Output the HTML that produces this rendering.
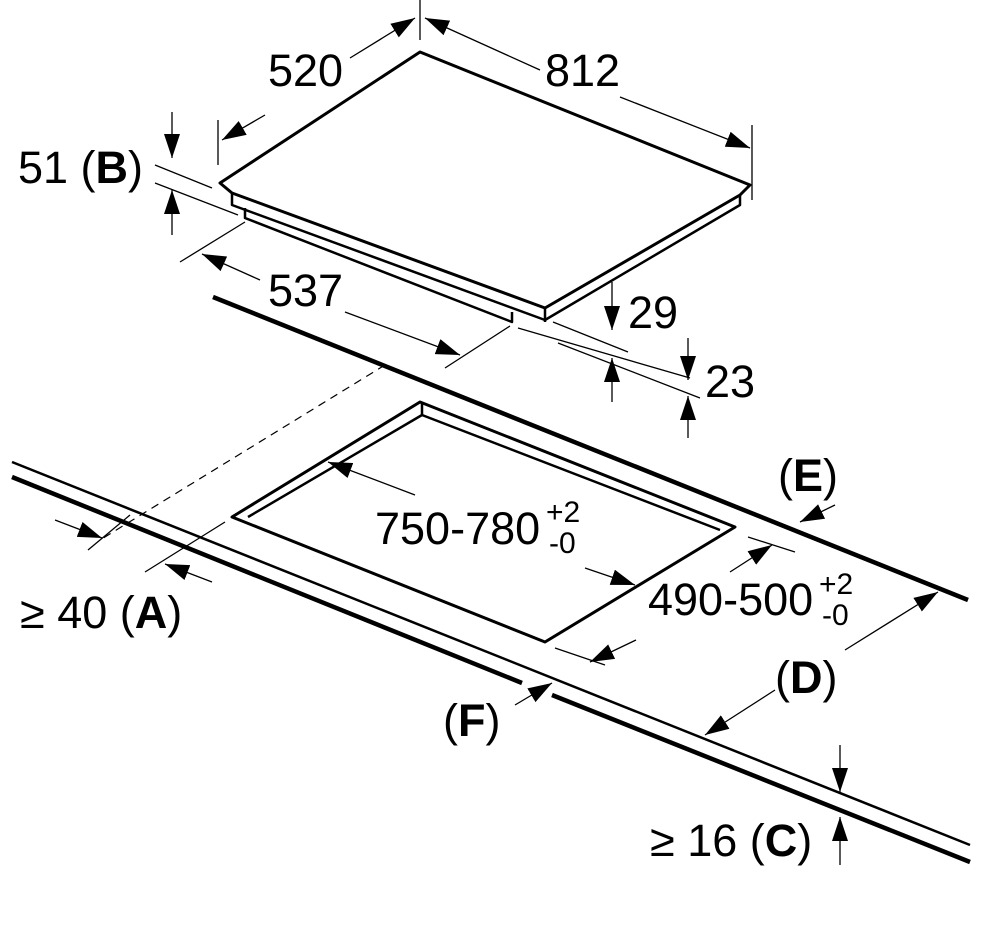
<!DOCTYPE html>
<html><head><meta charset="utf-8"><style>body{margin:0;background:#fff}svg{display:block}text{font-family:"Liberation Sans",sans-serif;font-size:45px;fill:#000}</style></head><body>
<svg width="1000" height="930" viewBox="0 0 1000 930">
<defs>
<marker id="b" markerWidth="24" markerHeight="16" refX="24" refY="8" orient="auto" markerUnits="userSpaceOnUse"><path d="M0,0 L24,8 L0,16Z"/></marker></defs>
<g fill="none" stroke="#000" stroke-linejoin="round">
<path d="M420,52 L750,185 L740,195 L545,308 L232,193 L220,183 Z" stroke-width="3"/>
<path d="M232,193 L232,205 L545,320 L740,205 L740,195" stroke-width="2.5"/>
<path d="M245,208 L245,218 L512,322 L512,312 M545,308 L545,322" stroke-width="2.5"/>
<path d="M213,297 L968,600" stroke-width="4.5"/>
<path d="M385,365 L100,540" stroke-width="1.2" stroke-dasharray="8,6"/>
<path d="M12,462 L970,845" stroke-width="2.5"/>
<path d="M12,477 L522,683 M552,695 L970,862" stroke-width="4.5"/>
<path d="M420,402 L735,527 L545,642 L232,517 Z" stroke-width="3"/>
<path d="M422,402 L422,415 L720,530 M422,415 L248,517" stroke-width="2.5"/>
</g>
<g stroke="#000" stroke-width="1.3" fill="none">
<path d="M420,0 L420,40 M218,120 L218,165 M752,125 L752,200"/>
<path d="M350,58 L415,18" marker-end="url(#b)"/>
<path d="M265,115 L222,140" marker-end="url(#b)"/>
<path d="M540,70 L425,18" marker-end="url(#b)"/>
<path d="M620,97 L750,148" marker-end="url(#b)"/>
<path d="M155,165 L212,188 M155,183 L238,215"/>
<path d="M172,112 L172,158" marker-end="url(#b)"/>
<path d="M172,235 L172,190" marker-end="url(#b)"/>
<path d="M180,262 L245,222 M445,368 L510,326"/>
<path d="M260,280 L202,254" marker-end="url(#b)"/>
<path d="M345,312 L460,355" marker-end="url(#b)"/>
<path d="M553,322 L628,352 M518,328 L690,378 M558,343 L700,398"/>
<path d="M612,282 L612,330" marker-end="url(#b)"/>
<path d="M612,402 L612,358" marker-end="url(#b)"/>
<path d="M688,338 L688,380" marker-end="url(#b)"/>
<path d="M688,438 L688,396" marker-end="url(#b)"/>
<path d="M415,495 L328,462" marker-end="url(#b)"/>
<path d="M585,568 L635,585" marker-end="url(#b)"/>
<path d="M748,537 L795,552 M555,648 L605,665"/>
<path d="M730,572 L772,545" marker-end="url(#b)"/>
<path d="M636,640 L590,662" marker-end="url(#b)"/>
<path d="M835,505 L800,522" marker-end="url(#b)"/>
<path d="M845,650 L938,592" marker-end="url(#b)"/>
<path d="M775,690 L705,735" marker-end="url(#b)"/>
<path d="M515,705 L552,683" marker-end="url(#b)"/>
<path d="M88,550 L130,515 M145,572 L225,522"/>
<path d="M55,520 L102,538" marker-end="url(#b)"/>
<path d="M212,582 L165,564" marker-end="url(#b)"/>
<path d="M840,745 L840,792" marker-end="url(#b)"/>
<path d="M840,865 L840,817" marker-end="url(#b)"/>
</g>
<text x="268" y="86">520</text>
<text x="545" y="86">812</text>
<text x="18" y="183">51 (<tspan font-weight="bold">B</tspan>)</text>
<text x="268" y="306">537</text>
<text x="628" y="328">29</text>
<text x="705" y="397">23</text>
<text x="778" y="491">(<tspan font-weight="bold">E</tspan>)</text>
<text x="375" y="544">750-780</text><text x="546" y="522" style="font-size:30px">+2</text><text x="549" y="553" style="font-size:30px">-0</text>
<text x="648" y="615">490-500</text><text x="819" y="594" style="font-size:30px">+2</text><text x="822" y="625" style="font-size:30px">-0</text>
<text x="20" y="628">≥ 40 (<tspan font-weight="bold">A</tspan>)</text>
<text x="775" y="693">(<tspan font-weight="bold">D</tspan>)</text>
<text x="443" y="736">(<tspan font-weight="bold">F</tspan>)</text>
<text x="650" y="856">≥ 16 (<tspan font-weight="bold">C</tspan>)</text>
</svg></body></html>
